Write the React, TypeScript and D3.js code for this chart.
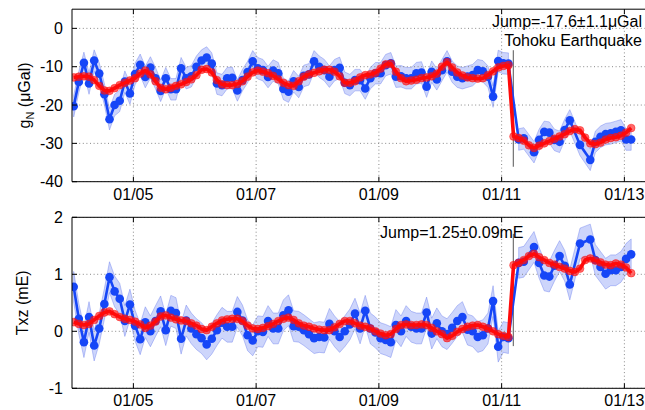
import React from 'react';
import * as d3 from 'd3';

const W = 645;
const H = 410;

const xTickYears = [2005, 2007, 2009, 2011, 2013];
const xTickLabels = ['01/05', '01/07', '01/09', '01/11', '01/13'];
const gTicks = [0, -10, -20, -30, -40];
const tTicks = [2, 1, 0, -1];

const quakeYear = 2011.19;
const gQuakeLine = [-5.7, -36.1];
const tQuakeLine = [1.71, -0.26];

// months since Jan 2004
const blueMonths = [
  0, 1, 2, 3, 4, 5, 6, 7, 8, 9, 10, 11, 12, 13, 14, 15, 16, 17, 18, 19,
  20, 21, 22, 23, 24, 25, 26, 27, 28, 29, 30, 31, 32, 33, 34, 35, 36, 37, 38, 39,
  40, 41, 42, 43, 44, 45, 46, 47, 48, 49, 50, 51, 52, 53, 54, 55, 56, 57, 58, 59,
  60, 61, 62, 63, 64, 65, 66, 67, 68, 69, 70, 71, 72, 73, 74, 75, 76, 77, 78, 79,
  80, 81, 82, 83, 84, 85,
  87, 88, 90, 91, 92, 93, 94, 95, 96, 97, 99, 101, 102, 103, 104, 105, 106, 107, 108, 109,
];
const blueG = [
  -20.3, -14.0, -9.0, -14.4, -8.4, -11.8, -17.2, -23.7, -20.0, -18.9,
  -13.9, -17.0, -11.9, -9.5, -12.7, -10.2, -13.0, -16.3, -13.0, -15.9,
  -15.9, -10.4, -13.0, -12.5, -10.0, -8.4, -7.6, -9.2, -14.4, -14.8,
  -13.0, -12.9, -16.2, -13.5, -11.4, -8.6, -10.4, -10.9, -12.7, -11.0,
  -11.7, -15.8, -16.5, -13.8, -15.3, -12.4, -12.0, -8.6, -10.0, -10.9,
  -12.6, -10.9, -10.3, -14.2, -14.8, -13.5, -13.5, -15.7, -13.0, -11.7,
  -11.7, -9.6, -9.1, -12.6, -12.5, -13.0, -13.0, -11.7, -11.5, -15.2,
  -11.3, -13.3, -10.9, -8.6, -11.3, -12.6, -13.0, -12.6, -12.2, -10.9,
  -11.2, -12.6, -17.8, -8.5, -9.1, -9.2,
  -29.0, -28.7, -32.3, -29.1, -27.0, -27.2, -29.1, -29.6, -26.5, -24.0,
  -30.4, -34.3, -29.6, -28.3, -27.6, -27.4, -27.0, -26.6, -29.0, -29.0,
];
const blueT = [
  0.78, 0.22, -0.19, 0.25, -0.25, 0.05, 0.48, 0.95, 0.70, 0.57,
  0.18, 0.47, 0.10, -0.14, 0.16, 0.0, 0.18, 0.35, 0.02, 0.36,
  0.32, -0.13, 0.19, 0.05, -0.05, -0.12, -0.23, -0.13, 0.02, 0.15,
  0.08, 0.08, 0.34, 0.19, -0.07, -0.16, 0.0, -0.01, 0.18, 0.05,
  0.05, 0.28, 0.37, 0.09, 0.08, 0.02, -0.05, -0.12, -0.10, -0.11,
  0.13, 0.0, -0.10, 0.0, 0.12, 0.31, 0.05, 0.36, 0.05, -0.02,
  -0.12, -0.15, -0.19, 0.11, 0.0, 0.18, 0.08, 0.05, 0.05, 0.33,
  -0.04, 0.14, 0.0, -0.05, 0.06, 0.18, 0.25, 0.03, 0.0, -0.10,
  -0.07, 0.05, 0.53, -0.27, -0.10, -0.12,
  1.20, 1.22, 1.48, 1.20, 0.98, 0.96, 1.15, 1.32, 1.15, 0.82,
  1.54, 1.61, 1.25, 1.13, 1.01, 1.07, 1.07, 1.13, 1.27, 1.35,
];
const gSigma = 2.8;
const tSigma = 0.27;

const redMonths = d3.range(0, 110);
const redG = [
  -12.8, -12.6, -12.5, -12.6, -13.5, -15.0, -16.2, -16.3, -15.6, -14.8,
  -14.2, -13.6, -13.0, -11.8, -11.0, -12.0, -13.8, -15.5, -15.9, -15.5,
  -15.0, -14.6, -14.0, -13.3, -12.2, -10.8, -10.6, -11.5, -13.5, -14.6,
  -14.8, -14.8, -14.5, -13.8, -12.6, -11.5, -11.0, -11.3, -11.7, -12.4,
  -13.3, -14.2, -14.8, -15.0, -13.8, -12.6, -12.0, -11.6, -11.2, -10.8,
  -10.8, -11.3, -12.5, -14.2, -14.2, -13.8, -12.8, -12.2, -12.0, -11.6,
  -10.5, -9.4, -9.2, -11.3, -13.0, -13.8, -13.6, -13.4, -13.0, -12.8,
  -12.5, -11.8, -10.0, -8.8, -10.2, -11.5, -12.3, -12.8, -13.0, -13.1,
  -13.0, -12.2, -11.2, -10.2, -9.8, -9.6,
  -28.2, -28.6, -29.3, -30.5, -31.2, -30.6, -30.0, -29.4, -28.8, -28.2,
  -27.6, -26.8, -26.3, -26.6, -28.5, -30.0, -30.2, -29.8, -29.0, -28.6,
  -28.4, -28.0, -27.2, -26.0,
];
const redT = [
  0.16, 0.13, 0.11, 0.13, 0.20, 0.27, 0.33, 0.35, 0.30, 0.25,
  0.22, 0.20, 0.17, 0.12, 0.06, 0.10, 0.17, 0.26, 0.28, 0.24,
  0.21, 0.19, 0.18, 0.14, 0.10, 0.04, 0.02, 0.08, 0.14, 0.19,
  0.21, 0.22, 0.22, 0.18, 0.10, 0.05, 0.04, 0.06, 0.09, 0.13,
  0.18, 0.22, 0.24, 0.20, 0.14, 0.10, 0.08, 0.05, 0.03, 0.02,
  0.02, 0.07, 0.13, 0.18, 0.18, 0.14, 0.10, 0.08, 0.05, 0.0,
  -0.04, -0.07, -0.05, 0.04, 0.11, 0.12, 0.11, 0.11, 0.12, 0.11,
  0.06, 0.0, -0.05, -0.12, -0.08, -0.01, 0.04, 0.08, 0.10, 0.11,
  0.08, 0.05, 0.0, -0.05, -0.08, -0.10,
  1.16, 1.20, 1.25, 1.32, 1.36, 1.30, 1.25, 1.20, 1.17, 1.13,
  1.10, 1.06, 1.04, 1.10, 1.25, 1.28, 1.24, 1.21, 1.17, 1.16,
  1.19, 1.17, 1.12, 1.02,
];
const gRedSigma = 1.0;
const tRedSigma = 0.065;

const FONT = 'Liberation Sans, Arial, Helvetica, sans-serif';
const BLUE = '#1646f7';
const RED = '#ff0a0a';

const monthToYear = (m: number) => 2004 + (m + 0.33) / 12;

const x = d3.scaleLinear().domain([2004, 2013.5]).range([72, 72 + 9.5 * 61.375]);
const X_LEFT = 72;
const X_RIGHT = 645;

type PanelProps = {
  id: string;
  y: d3.ScaleLinear<number, number>;
  ticks: number[];
  blue: number[];
  red: number[];
  sigma: number;
  redSigma: number;
  quake: number[];
  ylabel: React.ReactNode;
  labelX: number;
};

function Panel({ id, y, ticks, blue, red, sigma, redSigma, quake, ylabel, labelX }: PanelProps) {
  const [yBottom, yTop] = y.range();
  const bluePts = blueMonths.map((m, i) => ({ t: monthToYear(m), v: blue[i] }));
  const redPts = redMonths.map((m, i) => ({ t: monthToYear(m), v: red[i] }));
  const line = d3.line<{ t: number; v: number }>().x((d) => x(d.t)).y((d) => y(d.v));
  const band = d3
    .area<{ t: number; v: number }>()
    .x((d) => x(d.t))
    .y0((d) => y(d.v - sigma))
    .y1((d) => y(d.v + sigma));
  const redBand = d3
    .area<{ t: number; v: number }>()
    .x((d) => x(d.t))
    .y0((d) => y(d.v - redSigma))
    .y1((d) => y(d.v + redSigma));
  const preBlue = bluePts.filter((d) => d.t < quakeYear);
  const postBlue = bluePts.filter((d) => d.t > quakeYear);
  const preRed = redPts.filter((d) => d.t < quakeYear);
  const postRed = redPts.filter((d) => d.t > quakeYear);
  const midY = (yTop + yBottom) / 2;
  return (
    <g>
      <defs>
        <clipPath id={id}>
          <rect x={X_LEFT} y={yTop} width={X_RIGHT - X_LEFT + 10} height={yBottom - yTop} />
        </clipPath>
      </defs>
      <g clipPath={`url(#${id})`}>
        <path d={band(preBlue) || ''} fill="rgba(70,100,240,0.27)" stroke="rgba(80,105,235,0.45)" strokeWidth={0.8} />
        <path d={band(postBlue) || ''} fill="rgba(70,100,240,0.27)" stroke="rgba(80,105,235,0.45)" strokeWidth={0.8} />
        {xTickYears.map((t) => (
          <line key={'gx' + t} x1={x(t)} x2={x(t)} y1={yTop} y2={yBottom} stroke="#888" strokeWidth={1} strokeDasharray="1 2.6" />
        ))}
        {ticks.map((v) => (
          <line key={'gy' + v} x1={X_LEFT} x2={X_RIGHT} y1={y(v)} y2={y(v)} stroke="#888" strokeWidth={1} strokeDasharray="1 2.6" />
        ))}
        <line x1={x(quakeYear)} x2={x(quakeYear)} y1={y(quake[0])} y2={y(quake[1])} stroke="#555" strokeWidth={1} />
        <path d={line(bluePts) || ''} fill="none" stroke={BLUE} strokeWidth={2.6} strokeLinejoin="round" />
        {bluePts.map((d, i) => (
          <circle key={'b' + i} cx={x(d.t)} cy={y(d.v)} r={4.3} fill={BLUE} />
        ))}
        <path d={redBand(preRed) || ''} fill="rgba(255,90,90,0.25)" />
        <path d={redBand(postRed) || ''} fill="rgba(255,90,90,0.25)" />
        <path d={line(redPts) || ''} fill="none" stroke={RED} strokeWidth={3.6} strokeLinejoin="round" />
        {redPts.map((d, i) => (
          <circle key={'r' + i} cx={x(d.t)} cy={y(d.v)} r={3.9} fill={RED} fillOpacity={0.6} stroke={RED} strokeOpacity={0.55} strokeWidth={0.8} />
        ))}
      </g>
      <line x1={X_LEFT} x2={X_LEFT} y1={yTop} y2={yBottom} stroke="#000" strokeWidth={1} />
      <line x1={X_LEFT} x2={X_RIGHT} y1={yBottom} y2={yBottom} stroke="#000" strokeWidth={1} />
      <line x1={X_LEFT} x2={X_RIGHT} y1={yTop} y2={yTop} stroke="#000" strokeWidth={1} />
      {ticks.map((v) => (
        <g key={'ty' + v}>
          <line x1={X_LEFT} x2={X_LEFT + 5} y1={y(v)} y2={y(v)} stroke="#000" />
          <text x={X_LEFT - 9} y={y(v)} dy="0.36em" textAnchor="end" fontSize={16} fontFamily={FONT}>
            {v}
          </text>
        </g>
      ))}
      {xTickYears.map((t, i) => (
        <g key={'tx' + t}>
          <line x1={x(t)} x2={x(t)} y1={yBottom} y2={yBottom - 5} stroke="#000" />
          <line x1={x(t)} x2={x(t)} y1={yTop} y2={yTop + 5} stroke="#000" />
          <text x={x(t)} y={yBottom + 18} textAnchor="middle" fontSize={16} fontFamily={FONT}>
            {xTickLabels[i]}
          </text>
        </g>
      ))}
      <text transform={`translate(${labelX},${midY}) rotate(-90)`} textAnchor="middle" fontSize={16} fontFamily={FONT}>
        {ylabel}
      </text>
    </g>
  );
}

export default function App() {
  const yG = d3.scaleLinear().domain([-40, 5]).range([181.7, 9.2]);
  const yT = d3.scaleLinear().domain([-1, 2]).range([388.3, 217.3]);
  return (
    <div style={{ position: 'absolute', left: 0, top: 0 }}>
      <svg width={W} height={H} viewBox={`0 0 ${W} ${H}`} style={{ display: 'block', background: '#fff' }}>
        <rect x={0} y={0} width={W} height={H} fill="#fff" />
        <Panel
          id="clipTop"
          y={yG}
          ticks={gTicks}
          blue={blueG}
          red={redG}
          sigma={gSigma}
          redSigma={gRedSigma}
          quake={gQuakeLine}
          labelX={30}
          ylabel={
            <>
              <tspan>g</tspan>
              <tspan fontSize={11} dy={4}>N</tspan>
              <tspan dy={-4}> (μGal)</tspan>
            </>
          }
        />
        <Panel
          id="clipBottom"
          y={yT}
          ticks={tTicks}
          blue={blueT}
          red={redT}
          sigma={tSigma}
          redSigma={tRedSigma}
          quake={tQuakeLine}
          labelX={28}
          ylabel={<tspan>Txz (mE)</tspan>}
        />
        <text x={642} y={27.3} textAnchor="end" fontSize={16} fontFamily={FONT}>
          Jump=-17.6±1.1μGal
        </text>
        <text x={642} y={46} textAnchor="end" fontSize={16} fontFamily={FONT}>
          Tohoku Earthquake
        </text>
        <text x={380} y={238.3} textAnchor="start" fontSize={16} fontFamily={FONT}>
          Jump=1.25±0.09mE
        </text>
      </svg>
    </div>
  );
}
